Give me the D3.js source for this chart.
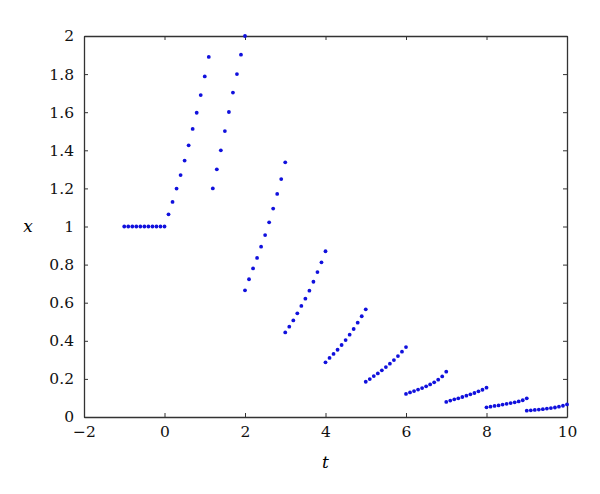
<!DOCTYPE html>
<html><head><meta charset="utf-8">
<script src="https://cdn.jsdelivr.net/npm/d3@7"></script>
<style>body{margin:0;background:#fff}svg{display:block}</style>
</head><body><svg id="c" width="600" height="494"></svg>
<script>
// Data: t values per segment (step 0.1), x values
const seg0T = [-1,-0.9,-0.8,-0.7,-0.6,-0.5,-0.4,-0.3,-0.2,-0.1,0];
const seg0X = [1,1,1,1,1,1,1,1,1,1,1];
const seg1T = [0.1,0.2,0.3,0.4,0.5,0.6,0.7,0.8,0.9,1.0,1.1];
const seg1X = [1.064,1.129,1.199,1.270,1.346,1.426,1.512,1.597,1.690,1.788,1.890];
const seg2T = [1.2,1.3,1.4,1.5,1.6,1.7,1.8,1.9,2.0];
const seg2X = [1.200,1.300,1.400,1.501,1.601,1.703,1.800,1.902,2.000];
const seg3T = [2.0,2.1,2.2,2.3,2.4,2.5,2.6,2.7,2.8,2.9,3.0];
const seg3X = [0.665,0.723,0.780,0.835,0.894,0.955,1.022,1.094,1.171,1.249,1.337];
const seg4T = [3.0,3.1,3.2,3.3,3.4,3.5,3.6,3.7,3.8,3.9,4.0];
const seg4X = [0.444,0.474,0.507,0.544,0.583,0.621,0.663,0.710,0.761,0.812,0.870];
const seg5T = [4.0,4.1,4.2,4.3,4.4,4.5,4.6,4.7,4.8,4.9,5.0];
const seg5X = [0.287,0.310,0.331,0.353,0.378,0.404,0.432,0.462,0.495,0.529,0.565];
const seg6T = [5.0,5.1,5.2,5.3,5.4,5.5,5.6,5.7,5.8,5.9,6.0];
const seg6X = [0.185,0.199,0.215,0.229,0.245,0.262,0.280,0.299,0.320,0.343,0.367];
const seg7T = [6.0,6.1,6.2,6.3,6.4,6.5,6.6,6.7,6.8,6.9,7.0];
const seg7X = [0.121,0.129,0.136,0.144,0.152,0.161,0.171,0.182,0.196,0.213,0.238];
const seg8T = [7.0,7.1,7.2,7.3,7.4,7.5,7.6,7.7,7.8,7.9,8.0];
const seg8X = [0.079,0.086,0.093,0.098,0.105,0.112,0.119,0.126,0.135,0.143,0.154];
const seg9T = [8.0,8.1,8.2,8.3,8.4,8.5,8.6,8.7,8.8,8.9,9.0];
const seg9X = [0.051,0.054,0.058,0.061,0.065,0.069,0.073,0.077,0.082,0.088,0.098];
const seg10T = [9.0,9.1,9.2,9.3,9.4,9.5,9.6,9.7,9.8,9.9,10.0];
const seg10X = [0.033,0.035,0.037,0.039,0.041,0.044,0.047,0.050,0.054,0.059,0.066];
const xTicks = [-2,0,2,4,6,8,10];
const yTicks = [0,0.2,0.4,0.6,0.8,1,1.2,1.4,1.6,1.8,2];
const xLabel = "t", yLabel = "x";

const segT = [seg0T,seg1T,seg2T,seg3T,seg4T,seg5T,seg6T,seg7T,seg8T,seg9T,seg10T];
const segX = [seg0X,seg1X,seg2X,seg3X,seg4X,seg5X,seg6X,seg7X,seg8X,seg9X,seg10X];
const points = [];
segT.forEach((ts,i)=>ts.forEach((t,j)=>points.push({t, x: segX[i][j]})));

const L=84, R=567, T=36, B=417;
const svg = d3.select("#c");
const xs = d3.scaleLinear().domain([-2,10]).range([L,R]);
const ys = d3.scaleLinear().domain([0,2]).range([B,T]);

const tl = 4;
const FF = "DejaVu Serif";
const FS = "15.5px";
const gB = svg.append("g").attr("transform",`translate(0,${B})`)
  .call(d3.axisBottom(xs).tickValues(xTicks).tickSizeInner(-tl).tickSizeOuter(0).tickPadding(9).tickFormat(d=>d<0?"\u2212"+(-d):d));
const gT = svg.append("g").attr("transform",`translate(0,${T})`)
  .call(d3.axisTop(xs).tickValues(xTicks).tickSizeInner(-tl).tickSizeOuter(0).tickFormat(""));
const gL = svg.append("g").attr("transform",`translate(${L},0)`)
  .call(d3.axisLeft(ys).tickValues(yTicks).tickSizeInner(-tl).tickSizeOuter(0).tickPadding(10).tickFormat(d=>d));
const gR = svg.append("g").attr("transform",`translate(${R},0)`)
  .call(d3.axisRight(ys).tickValues(yTicks).tickSizeInner(-tl).tickSizeOuter(0).tickFormat(""));
[gB,gT,gL,gR].forEach(g=>{
  g.attr("font-family",null).attr("font-size",null);
  g.select(".domain").attr("stroke","#333").attr("stroke-width",1.3);
  g.selectAll(".tick line").attr("stroke","#333").attr("stroke-width",1);
  g.selectAll("text").attr("fill","#111").style("font-family",FF).style("font-size",FS);
});

svg.append("g").selectAll("circle").data(points).join("circle")
  .attr("cx",d=>xs(d.t)).attr("cy",d=>ys(d.x)).attr("r",1.9).attr("fill","#1010dd");

svg.append("text").attr("x",(L+R)/2).attr("y",468).attr("text-anchor","middle")
  .style("font-family",FF).style("font-size","17px").style("font-style","italic").text(xLabel);
svg.append("text").attr("x",28).attr("y",ys(1)+5).attr("text-anchor","middle")
  .style("font-family",FF).style("font-size","17px").style("font-style","italic").text(yLabel);
</script></body></html>
